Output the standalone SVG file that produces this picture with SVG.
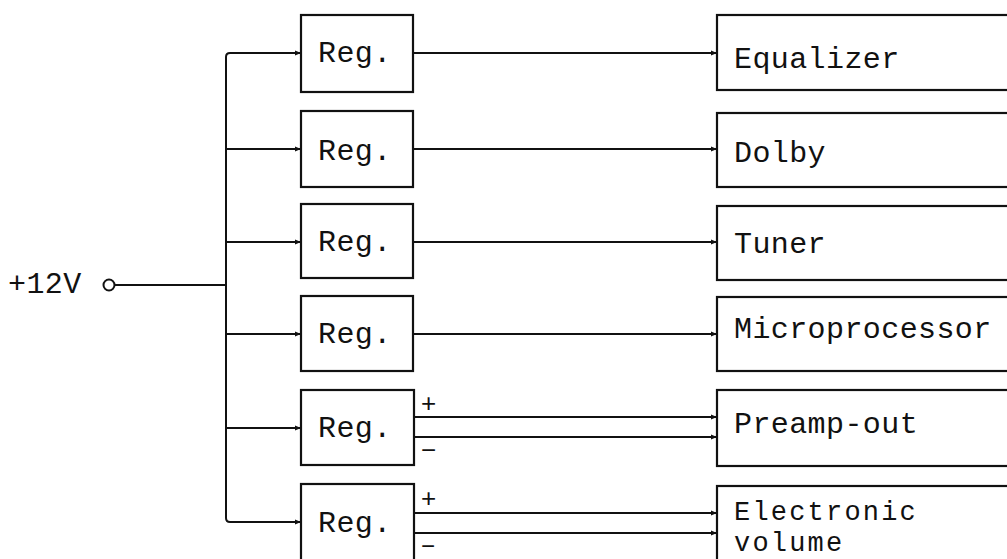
<svg xmlns="http://www.w3.org/2000/svg" width="1007" height="559" viewBox="0 0 1007 559">
<style>
.box{fill:#fff;stroke:#111;stroke-width:2.2}
.w{fill:none;stroke:#111;stroke-width:2}
.t{font-family:"Liberation Mono","Courier New",monospace;font-size:30px;letter-spacing:0.4px;fill:#111}
.v{font-size:27px;letter-spacing:2.2px}
.s{font-family:"Liberation Sans",Arial,sans-serif;font-size:26px;fill:#111}
</style>
<defs>
<marker id="ah" viewBox="0 0 10 10" refX="10" refY="5" markerWidth="9" markerHeight="6" markerUnits="userSpaceOnUse" orient="auto">
<path d="M0,1 L10,5 L0,9 Z" fill="#111"/>
</marker>
</defs>
<g id="connectors">
<circle cx="109" cy="285" r="5.5" class="w"/>
<path class="w" d="M114.5,285 H226"/>
<path class="w" d="M230,53 Q226,53 226,57 V518 Q226,522 230,522"/>
<path class="w" d="M230,53 H301" marker-end="url(#ah)"/>
<path class="w" d="M226,149 H301" marker-end="url(#ah)"/>
<path class="w" d="M226,242 H301" marker-end="url(#ah)"/>
<path class="w" d="M226,334 H301" marker-end="url(#ah)"/>
<path class="w" d="M226,428 H301" marker-end="url(#ah)"/>
<path class="w" d="M230,522 H301" marker-end="url(#ah)"/>
<path class="w" d="M413,53 H717" marker-end="url(#ah)"/>
<path class="w" d="M413,149 H717" marker-end="url(#ah)"/>
<path class="w" d="M413,242 H717" marker-end="url(#ah)"/>
<path class="w" d="M413,334 H717" marker-end="url(#ah)"/>
<path class="w" d="M414,417 H717" marker-end="url(#ah)"/>
<path class="w" d="M414,437 H717" marker-end="url(#ah)"/>
<path class="w" d="M414,513 H717" marker-end="url(#ah)"/>
<path class="w" d="M414,533 H717" marker-end="url(#ah)"/>
<text class="s" x="421" y="412">+</text>
<text class="s" x="421" y="459">−</text>
<text class="s" x="421" y="507">+</text>
<text class="s" x="421" y="554" style="font-size:24px">−</text>
</g>
<g id="input"><text class="t" x="8" y="293">+12V</text></g>
<g id="reg1"><rect class="box" x="301" y="15" width="112" height="77"/><text class="t" x="318" y="62">Reg.</text></g>
<g id="reg2"><rect class="box" x="301" y="111" width="112" height="76"/><text class="t" x="318" y="160">Reg.</text></g>
<g id="reg3"><rect class="box" x="301" y="204" width="112" height="74"/><text class="t" x="318" y="251">Reg.</text></g>
<g id="reg4"><rect class="box" x="301" y="296" width="112" height="75"/><text class="t" x="318" y="343">Reg.</text></g>
<g id="reg5"><rect class="box" x="301" y="390" width="113" height="75"/><text class="t" x="318" y="437">Reg.</text></g>
<g id="reg6"><rect class="box" x="301" y="484" width="113" height="90"/><text class="t" x="318" y="532">Reg.</text></g>
<g id="equalizer"><rect class="box" x="717" y="15" width="320" height="75"/><text class="t" x="734" y="68">Equalizer</text></g>
<g id="dolby"><rect class="box" x="717" y="113" width="320" height="74"/><text class="t" x="734" y="162">Dolby</text></g>
<g id="tuner"><rect class="box" x="717" y="206" width="320" height="74"/><text class="t" x="734" y="253">Tuner</text></g>
<g id="microprocessor"><rect class="box" x="717" y="297" width="320" height="74"/><text class="t" x="734" y="338">Microprocessor</text></g>
<g id="preamp"><rect class="box" x="717" y="390" width="320" height="76"/><text class="t" x="734" y="433">Preamp-out</text></g>
<g id="volume"><rect class="box" x="717" y="486" width="320" height="90"/><text class="t v" x="734" y="520">Electronic<tspan x="734" dy="31">volume</tspan></text></g>
</svg>
